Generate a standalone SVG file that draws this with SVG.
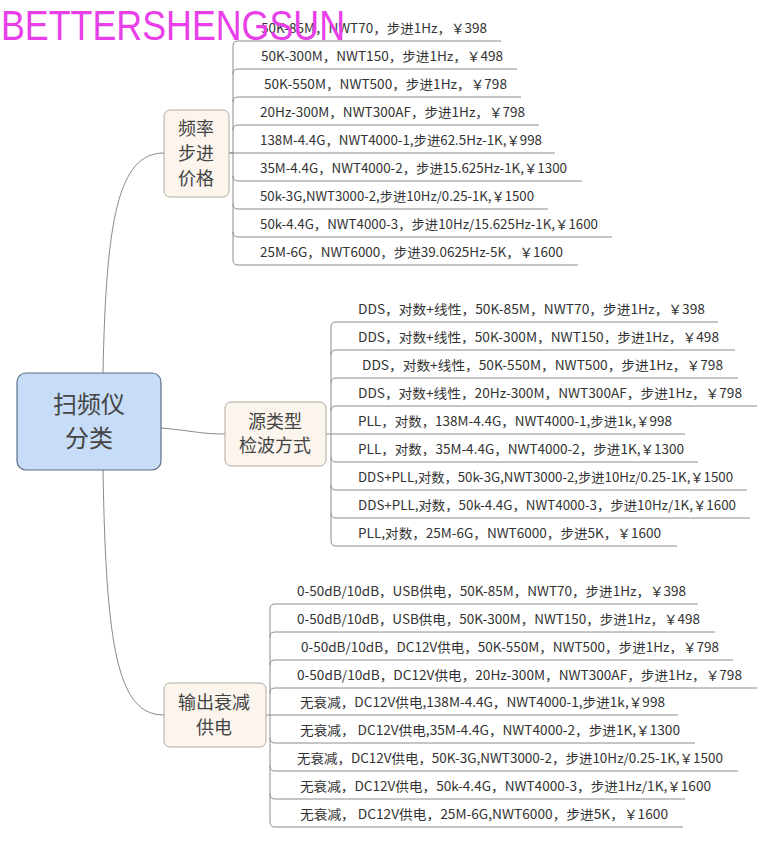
<svg xmlns="http://www.w3.org/2000/svg" width="772" height="843" viewBox="0 0 772 843">
<style>
.bg{fill:#ffffff}
.root{fill:#c7dcf7;stroke:#5b6f86;stroke-width:1.2}
.br{fill:#fbf5ee;stroke:#b3aa9f;stroke-width:1}
.rt{font-family:"Noto Sans CJK SC",sans-serif;font-size:24px;fill:#444;text-anchor:middle}
.bt{font-family:"Noto Sans CJK SC",sans-serif;font-size:18px;fill:#444;text-anchor:middle}
.lt{font-family:"Noto Sans CJK SC",sans-serif;font-size:13px;fill:#333}
.cn{fill:none;stroke:#8a8a8a;stroke-width:1}
.ul{fill:none;stroke:#8c8c8c;stroke-width:1}
.wm{font-family:"Liberation Sans",Arial,sans-serif;font-size:42px;fill:#e83fe8}
</style>
<rect class="bg" x="0" y="0" width="772" height="843"/>
<g id="connectors">
<path class="cn" d="M103,373 C106,220 118,153 164,153"/>
<path class="cn" d="M161,428 C195,431 200,434 225,434"/>
<path class="cn" d="M103,470 C106,650 118,715 164,715"/>
<path class="ul" d="M229,153 H233 M233,46 V260"/>
<path class="ul" d="M233,46 Q233,41 238,41 H501"/>
<path class="ul" d="M233,74 Q233,69 238,69 H517"/>
<path class="ul" d="M233,102 Q233,97 238,97 H521"/>
<path class="ul" d="M233,130 Q233,125 238,125 H539"/>
<path class="ul" d="M229,153 H555"/>
<path class="ul" d="M233,176 Q233,181 238,181 H582"/>
<path class="ul" d="M233,204 Q233,209 238,209 H548"/>
<path class="ul" d="M233,232 Q233,237 238,237 H612"/>
<path class="ul" d="M233,260 Q233,265 238,265 H578"/>
<path class="ul" d="M331,327 V541"/>
<path class="ul" d="M331,327 Q331,322 336,322 H718"/>
<path class="ul" d="M331,355 Q331,350 336,350 H735"/>
<path class="ul" d="M331,383 Q331,378 336,378 H738"/>
<path class="ul" d="M331,411 Q331,406 336,406 H757"/>
<path class="ul" d="M326,434 H685"/>
<path class="ul" d="M331,457 Q331,462 336,462 H698"/>
<path class="ul" d="M331,485 Q331,490 336,490 H747"/>
<path class="ul" d="M331,513 Q331,518 336,518 H750"/>
<path class="ul" d="M331,541 Q331,546 336,546 H677"/>
<path class="ul" d="M270,609 V822"/>
<path class="ul" d="M270,609 Q270,604 275,604 H698"/>
<path class="ul" d="M270,637 Q270,632 275,632 H715"/>
<path class="ul" d="M270,665 Q270,660 275,660 H733"/>
<path class="ul" d="M270,693 Q270,688 275,688 H757"/>
<path class="ul" d="M266,715 H678"/>
<path class="ul" d="M270,738 Q270,743 275,743 H695"/>
<path class="ul" d="M270,766 Q270,771 275,771 H738"/>
<path class="ul" d="M270,794 Q270,799 275,799 H685"/>
<path class="ul" d="M270,822 Q270,827 275,827 H683"/>
</g>
<g id="root">
<rect class="root" x="17" y="373" width="144" height="97" rx="9"/>
<text class="rt" x="89" y="413">扫频仪</text>
<text class="rt" x="89" y="447">分类</text>
</g>
<g id="branch1">
<rect class="br" x="164" y="110" width="65" height="87" rx="6"/>
<text class="bt" x="196" y="135">频率</text>
<text class="bt" x="196" y="160">步进</text>
<text class="bt" x="196" y="185">价格</text>
</g>
<g id="branch2">
<rect class="br" x="225" y="402" width="101" height="64" rx="6"/>
<text class="bt" x="275" y="428">源类型</text>
<text class="bt" x="275" y="452">检波方式</text>
</g>
<g id="branch3">
<rect class="br" x="164" y="683" width="102" height="64" rx="6"/>
<text class="bt" x="214" y="709">输出衰减</text>
<text class="bt" x="214" y="734">供电</text>
</g>
<g id="leaves1">
<text class="lt" x="261" y="33" textLength="226" lengthAdjust="spacingAndGlyphs">50K-85M，NWT70，步进1Hz，￥398</text>
<text class="lt" x="261" y="61" textLength="242" lengthAdjust="spacingAndGlyphs">50K-300M，NWT150，步进1Hz，￥498</text>
<text class="lt" x="264" y="89" textLength="243" lengthAdjust="spacingAndGlyphs">50K-550M，NWT500，步进1Hz，￥798</text>
<text class="lt" x="260" y="117" textLength="265" lengthAdjust="spacingAndGlyphs">20Hz-300M，NWT300AF，步进1Hz，￥798</text>
<text class="lt" x="260" y="145" textLength="282" lengthAdjust="spacingAndGlyphs">138M-4.4G，NWT4000-1,步进62.5Hz-1K,￥998</text>
<text class="lt" x="260" y="173" textLength="307" lengthAdjust="spacingAndGlyphs">35M-4.4G，NWT4000-2，步进15.625Hz-1K,￥1300</text>
<text class="lt" x="260" y="201" textLength="274" lengthAdjust="spacingAndGlyphs">50k-3G,NWT3000-2,步进10Hz/0.25-1K,￥1500</text>
<text class="lt" x="260" y="229" textLength="338" lengthAdjust="spacingAndGlyphs">50k-4.4G，NWT4000-3，步进10Hz/15.625Hz-1K,￥1600</text>
<text class="lt" x="260" y="257" textLength="303" lengthAdjust="spacingAndGlyphs">25M-6G，NWT6000，步进39.0625Hz-5K，￥1600</text>
</g>
<g id="leaves2">
<text class="lt" x="358" y="314" textLength="347" lengthAdjust="spacingAndGlyphs">DDS，对数+线性，50K-85M，NWT70，步进1Hz，￥398</text>
<text class="lt" x="358" y="342" textLength="361" lengthAdjust="spacingAndGlyphs">DDS，对数+线性，50K-300M，NWT150，步进1Hz，￥498</text>
<text class="lt" x="362" y="370" textLength="361" lengthAdjust="spacingAndGlyphs">DDS，对数+线性，50K-550M，NWT500，步进1Hz，￥798</text>
<text class="lt" x="358" y="398" textLength="384" lengthAdjust="spacingAndGlyphs">DDS，对数+线性，20Hz-300M，NWT300AF，步进1Hz，￥798</text>
<text class="lt" x="358" y="426" textLength="314" lengthAdjust="spacingAndGlyphs">PLL，对数，138M-4.4G，NWT4000-1,步进1k,￥998</text>
<text class="lt" x="358" y="454" textLength="326" lengthAdjust="spacingAndGlyphs">PLL，对数，35M-4.4G，NWT4000-2，步进1K,￥1300</text>
<text class="lt" x="358" y="482" textLength="375" lengthAdjust="spacingAndGlyphs">DDS+PLL,对数，50k-3G,NWT3000-2,步进10Hz/0.25-1K,￥1500</text>
<text class="lt" x="358" y="510" textLength="378" lengthAdjust="spacingAndGlyphs">DDS+PLL,对数，50k-4.4G，NWT4000-3，步进10Hz/1K,￥1600</text>
<text class="lt" x="358" y="538" textLength="303" lengthAdjust="spacingAndGlyphs">PLL,对数，25M-6G，NWT6000，步进5K，￥1600</text>
</g>
<g id="leaves3">
<text class="lt" x="297" y="596" textLength="389" lengthAdjust="spacingAndGlyphs">0-50dB/10dB，USB供电，50K-85M，NWT70，步进1Hz，￥398</text>
<text class="lt" x="297" y="624" textLength="403" lengthAdjust="spacingAndGlyphs">0-50dB/10dB，USB供电，50K-300M，NWT150，步进1Hz，￥498</text>
<text class="lt" x="301" y="652" textLength="418" lengthAdjust="spacingAndGlyphs">0-50dB/10dB，DC12V供电，50K-550M，NWT500，步进1Hz，￥798</text>
<text class="lt" x="297" y="680" textLength="445" lengthAdjust="spacingAndGlyphs">0-50dB/10dB，DC12V供电，20Hz-300M，NWT300AF，步进1Hz，￥798</text>
<text class="lt" x="300" y="707" textLength="365" lengthAdjust="spacingAndGlyphs">无衰减，DC12V供电,138M-4.4G，NWT4000-1,步进1k,￥998</text>
<text class="lt" x="300" y="735" textLength="380" lengthAdjust="spacingAndGlyphs">无衰减， DC12V供电,35M-4.4G，NWT4000-2，步进1K,￥1300</text>
<text class="lt" x="297" y="763" textLength="426" lengthAdjust="spacingAndGlyphs">无衰减，DC12V供电，50K-3G,NWT3000-2，步进10Hz/0.25-1K,￥1500</text>
<text class="lt" x="300" y="791" textLength="411" lengthAdjust="spacingAndGlyphs">无衰减，DC12V供电，50k-4.4G，NWT4000-3，步进1Hz/1K,￥1600</text>
<text class="lt" x="300" y="819" textLength="368" lengthAdjust="spacingAndGlyphs">无衰减， DC12V供电，25M-6G,NWT6000，步进5K，￥1600</text>
</g>
<text class="wm" x="1" y="40" textLength="344" lengthAdjust="spacingAndGlyphs">BETTERSHENGSUN</text>
</svg>
